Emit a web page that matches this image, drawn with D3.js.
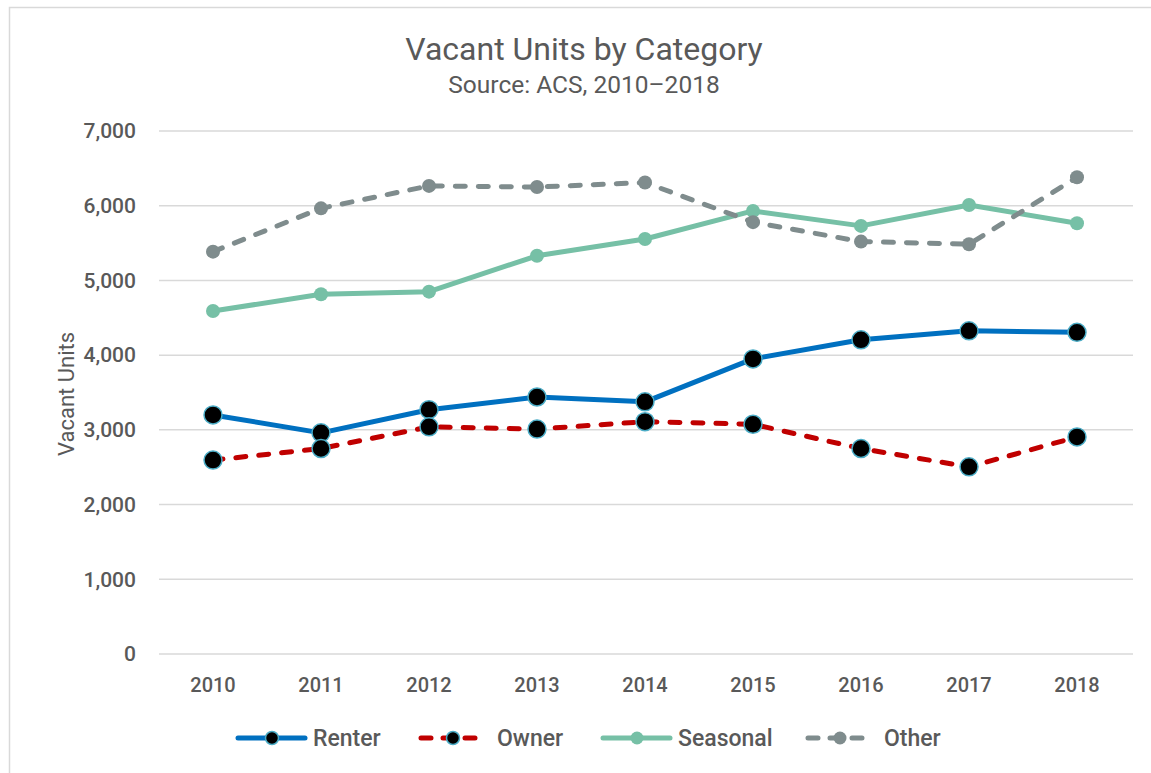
<!DOCTYPE html>
<html>
<head>
<meta charset="utf-8">
<script src="https://cdn.jsdelivr.net/npm/d3@7"></script>
<style>
  body { margin: 0; background: #fff; }
  svg text { font-family: Roboto, "DejaVu Sans", sans-serif; font-weight: 500; fill: #595959; }
</style>
</head>
<body>
<div id="chart"></div>
<script>
// data
var years = ["2010", "2011", "2012", "2013", "2014", "2015", "2016", "2017", "2018"];
var renter = [3200, 2960, 3270, 3440, 3375, 3950, 4205, 4325, 4305];
var owner = [2595, 2750, 3040, 3010, 3110, 3075, 2750, 2505, 2905];
var seasonal = [4590, 4815, 4850, 5330, 5555, 5930, 5730, 6010, 5765];
var other = [5385, 5965, 6265, 6250, 6310, 5780, 5520, 5485, 6380];
var yTicks = [0, 1000, 2000, 3000, 4000, 5000, 6000, 7000];

var series = [
  {name: "Renter", values: renter, color: "#0070C0", dash: null, dot: "#000", ring: "#4BACC6"},
  {name: "Owner", values: owner, color: "#C00000", dash: "10,13", dot: "#000", ring: "#4BACC6"},
  {name: "Seasonal", values: seasonal, color: "#76C0A6", dash: null, dot: "#76C0A6", ring: "#76C0A6"},
  {name: "Other", values: other, color: "#7F8C8D", dash: "10,13", dot: "#7F8C8D", ring: "#7F8C8D"}
];

var W = 1151, H = 773;

var svg = d3.select("#chart").append("svg")
  .attr("width", W)
  .attr("height", H);

// outer chart border (runs off the right/bottom edge)
svg.append("rect")
  .attr("x", 9.5).attr("y", 7.5)
  .attr("width", W).attr("height", H)
  .attr("fill", "none")
  .attr("stroke", "#d9d9d9")
  .attr("stroke-width", 1.5);

var x = d3.scaleBand().domain(years).range([159, 1131]);
var y = d3.scaleLinear().domain([0, 7000]).range([654, 131]);
var cx = function(i) { return x(years[i]) + x.bandwidth() / 2; };

// gridlines
svg.append("g").selectAll("line")
  .data(yTicks)
  .enter().append("line")
    .attr("x1", 159).attr("x2", 1133)
    .attr("y1", function(d) { return y(d); })
    .attr("y2", function(d) { return y(d); })
    .attr("stroke", "#d9d9d9")
    .attr("stroke-width", 1.5);

// y axis
var yAxis = svg.append("g")
  .attr("transform", "translate(136,0)")
  .call(d3.axisLeft(y).tickValues(yTicks).tickFormat(d3.format(",")).tickSize(0).tickPadding(0));
yAxis.select(".domain").remove();
yAxis.selectAll("text")
  .attr("font-size", 21)
  .style("font-family", "Roboto, sans-serif")
  .style("font-weight", 500)
  .attr("fill", "#595959");

// x axis
var xAxis = svg.append("g")
  .attr("transform", "translate(0,678)")
  .call(d3.axisBottom(x).tickSize(0).tickPadding(0));
xAxis.select(".domain").remove();
xAxis.selectAll("text")
  .attr("font-size", 20)
  .attr("dy", "0.71em")
  .style("font-family", "Roboto, sans-serif")
  .style("font-weight", 500)
  .attr("fill", "#595959");

// axis title
svg.append("text")
  .attr("transform", "translate(66,394) rotate(-90)")
  .attr("text-anchor", "middle")
  .attr("dy", "0.35em")
  .attr("font-size", 22)
  .style("font-weight", 400)
  .text("Vacant Units");

// titles
svg.append("text")
  .attr("x", 584).attr("y", 60)
  .attr("text-anchor", "middle")
  .attr("font-size", 32)
  .style("font-weight", 400)
  .text("Vacant Units by Category");
svg.append("text")
  .attr("x", 584).attr("y", 93)
  .attr("text-anchor", "middle")
  .attr("font-size", 24.5)
  .style("font-weight", 400)
  .text("Source: ACS, 2010\u20132018");

// lines
var line = d3.line()
  .x(function(d, i) { return cx(i); })
  .y(function(d) { return y(d); });

var groups = svg.selectAll(".series")
  .data(series)
  .enter().append("g")
    .attr("class", "series");

groups.append("path")
  .attr("d", function(d) { return line(d.values); })
  .attr("fill", "none")
  .attr("stroke", function(d) { return d.color; })
  .attr("stroke-width", 5)
  .attr("stroke-linecap", "round")
  .attr("stroke-linejoin", "round")
  .attr("stroke-dasharray", function(d) { return d.dash; });

groups.selectAll("circle")
  .data(function(d) { return d.values.map(function(v, i) { return {v: v, i: i, s: d}; }); })
  .enter().append("circle")
    .attr("cx", function(d) { return cx(d.i); })
    .attr("cy", function(d) { return y(d.v); })
    .attr("r", function(d) { return d.s.dot === "#000" ? 9 : 7; })
    .attr("fill", function(d) { return d.s.dot; })
    .attr("stroke", function(d) { return d.s.ring; })
    .attr("stroke-width", function(d) { return d.s.dot === "#000" ? 1.5 : 0; });

// legend
var legendX = [235, 418, 600, 805];
var legend = svg.selectAll(".legend")
  .data(series)
  .enter().append("g")
    .attr("class", "legend")
    .attr("transform", function(d, i) { return "translate(" + legendX[i] + ",738)"; });

legend.append("line")
  .attr("x1", 3).attr("x2", function(d) { return d.dash ? 64 : 70; })
  .attr("stroke", function(d) { return d.color; })
  .attr("stroke-width", 5)
  .attr("stroke-linecap", "round")
  .attr("stroke-dasharray", function(d) { return d.dash ? "10,12" : null; });

legend.append("circle")
  .attr("cx", function(d) { return d.dash ? 35 : 37; })
  .attr("r", 6.5)
  .attr("fill", function(d) { return d.dot; })
  .attr("stroke", function(d) { return d.ring; })
  .attr("stroke-width", function(d) { return d.dot === "#000" ? 1.5 : 0; });

legend.append("text")
  .attr("x", function(d) { return d.dash ? 79 : 78; })
  .attr("dy", "0.35em")
  .attr("font-size", 23)
  .text(function(d) { return d.name; });
</script>
</body>
</html>
